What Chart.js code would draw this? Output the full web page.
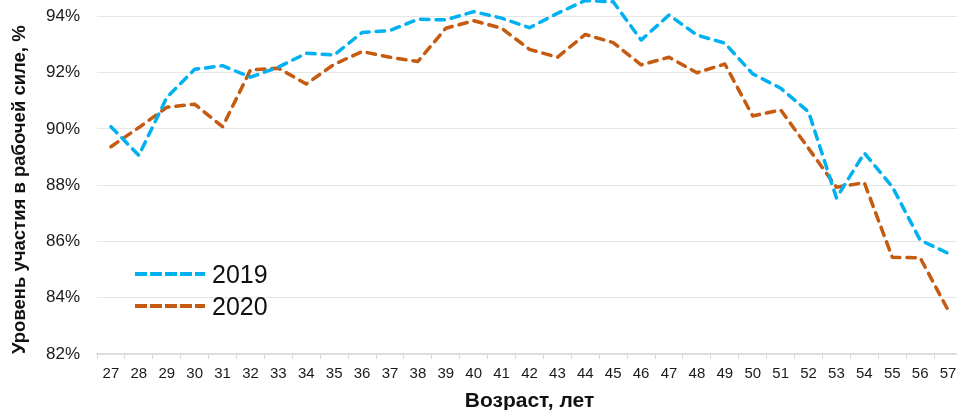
<!DOCTYPE html>
<html lang="ru">
<head>
    <meta charset="UTF-8">
    <title>Уровень участия в рабочей силе</title>
    <script src="https://cdn.jsdelivr.net/npm/chart.js"></script>
    <style>
        html, body {
            margin: 0;
            padding: 0;
            background: #ffffff;
            overflow: hidden;
        }

        /* the original picture is cropped at the top and on the right */
        #frame {
            position: relative;
            width: 957px;
            height: 410px;
            overflow: hidden;
        }

        #ageChart {
            position: absolute;
            left: 0;
            top: -67px;
        }

        .legend-item {
            position: absolute;
            left: 135px;
            height: 30px;
            display: flex;
            align-items: center;
            font-family: "Liberation Sans", Arial, sans-serif;
            font-size: 25px;
            color: #111;
        }

        .legend-item svg {
            margin-right: 7px;
        }
    </style>
</head>
<body>
    <div id="frame">
        <canvas id="ageChart" width="972" height="481"></canvas>
        <div class="legend-item" style="top: 259px;">
            <svg width="70" height="6"><line x1="0" y1="3" x2="70" y2="3" stroke="#00B0F0" stroke-width="4" stroke-dasharray="12 3"/></svg>2019
        </div>
        <div class="legend-item" style="top: 291px;">
            <svg width="70" height="6"><line x1="0" y1="3" x2="70" y2="3" stroke="#C55A11" stroke-width="4" stroke-dasharray="12 3"/></svg>2020
        </div>
    </div>

    <script>
        const ages = ["27", "28", "29", "30", "31", "32", "33", "34", "35", "36", "37", "38", "39", "40", "41",
                      "42", "43", "44", "45", "46", "47", "48", "49", "50", "51", "52", "53", "54", "55", "56", "57"];

        const rate2019 = [90.08, 89.06, 91.12, 92.12, 92.25, 91.84, 92.2, 92.69, 92.63, 93.43, 93.5, 93.9, 93.88, 94.17, 93.94,
                          93.6, 94.11, 94.57, 94.52, 93.16, 94.05, 93.34, 93.05, 91.96, 91.45, 90.61, 87.55, 89.14, 87.95, 86.05, 85.58];

        const rate2020 = [89.37, 90.05, 90.77, 90.88, 90.08, 92.1, 92.16, 91.6, 92.3, 92.75, 92.55, 92.4, 93.58, 93.85, 93.58,
                          92.83, 92.55, 93.36, 93.07, 92.28, 92.55, 92.0, 92.31, 90.46, 90.68, 89.31, 87.93, 88.09, 85.44, 85.42, 83.56];

        const fontFamily = "'Liberation Sans', Arial, sans-serif";

        const lineStyle = {
            borderWidth: 3.5,
            borderDash: [8.5, 7],
            borderCapStyle: "round",
            borderJoinStyle: "round",
            pointRadius: 0,
            tension: 0,
            fill: false
        };

        new Chart(document.getElementById("ageChart"), {
            type: "line",
            data: {
                labels: ages,
                datasets: [
                    { label: "2019", data: rate2019, borderColor: "#00B0F0", ...lineStyle },
                    { label: "2020", data: rate2020, borderColor: "#C55A11", ...lineStyle }
                ]
            },
            options: {
                responsive: false,
                animation: false,
                devicePixelRatio: 1,
                layout: { padding: { top: 13, right: 10, bottom: 0, left: 0 } },
                plugins: {
                    legend: { display: false },
                    tooltip: { enabled: false }
                },
                scales: {
                    x: {
                        offset: true,
                        grid: {
                            offset: true,
                            drawOnChartArea: false,
                            drawTicks: true,
                            tickLength: 5,
                            color: "#d9d9d9"
                        },
                        border: { display: true, color: "#d9d9d9", width: 1.5 },
                        ticks: {
                            color: "#1a1a1a",
                            padding: 6,
                            maxRotation: 0,
                            autoSkip: false,
                            font: { family: fontFamily, size: 15 }
                        },
                        title: {
                            display: true,
                            text: "Возраст, лет",
                            color: "#111",
                            padding: { top: 0, bottom: 0 },
                            font: { family: fontFamily, size: 21, weight: "bold" }
                        },
                        afterFit: scale => { scale.height = 60; }
                    },
                    y: {
                        min: 82,
                        max: 96,
                        grid: {
                            color: "#e6e6e6",
                            drawTicks: false
                        },
                        border: { display: false },
                        ticks: {
                            stepSize: 2,
                            color: "#1a1a1a",
                            padding: 17,
                            font: { family: fontFamily, size: 17 },
                            callback: v => v + "%"
                        },
                        title: {
                            display: true,
                            align: "start",
                            text: "Уровень участия в рабочей силе, %",
                            color: "#111",
                            padding: { top: 9, bottom: 0 },
                            font: { family: fontFamily, size: 18.5, weight: "bold" }
                        },
                        afterFit: scale => { scale.width = 97; }
                    }
                }
            }
        });
    </script>
</body>
</html>
